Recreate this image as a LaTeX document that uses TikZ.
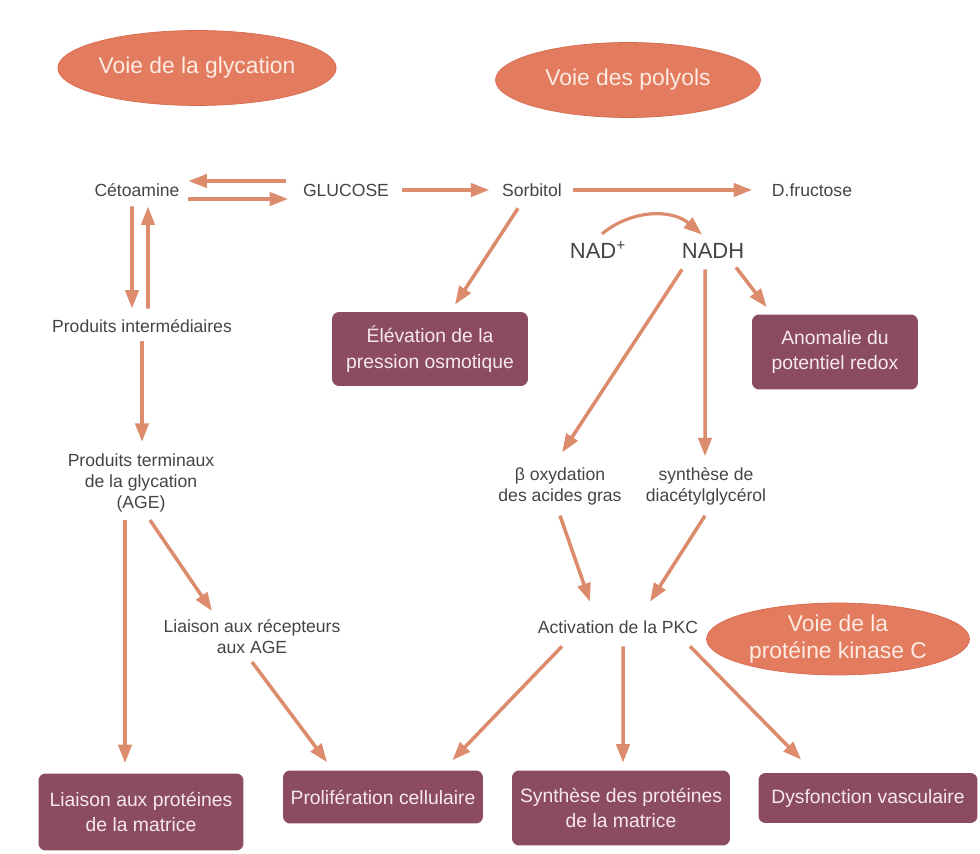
\documentclass[tikz,border=0pt]{standalone}
\usepackage{fontspec}
\setmainfont{Liberation Sans}
\definecolor{CoralPill}{HTML}{E37C5F}
\definecolor{CoralEdge}{HTML}{D8694D}
\definecolor{PaleCoral}{HTML}{FCEBE3}
\definecolor{MauveBox}{HTML}{8C4C60}
\definecolor{PaleMauve}{HTML}{F6E8EC}
\definecolor{SalmonArrow}{HTML}{DC8B6C}
\definecolor{SlateText}{HTML}{444444}
\usepackage{tikz}
\usetikzlibrary{
  arrows.meta,
  shapes.geometric
}

\begin{document}
\begin{tikzpicture}[
  x=0.02cm, y=0.02cm,
  pathway/.style={
    ellipse, fill=CoralPill, draw=CoralEdge,
    inner sep=0pt, align=center,
    font=\fontsize{13}{15}\selectfont,
    text=PaleCoral
  },
  effect/.style={
    rectangle, rounded corners=4pt,
    fill=MauveBox, inner sep=0pt,
    font=\fontsize{11}{14.5}\selectfont,
    align=center, text=PaleMauve
  },
  label/.style={
    font=\fontsize{10}{12}\selectfont,
    text=SlateText, align=center,
    inner sep=2pt
  },
  cofactor/.style={
    font=\fontsize{12.5}{15}\selectfont,
    text=SlateText, inner sep=2pt
  },
  arr/.style={
    draw=SalmonArrow, line width=2pt,
    -{Triangle[length=10.5pt,width=7.5pt]}
  }
]
  \useasboundingbox (0,0) rectangle (980,-854);

  % Pathway titles
  \node[pathway, minimum width=5.5cm,
    minimum height=1.5cm] (glyc)
    at (197,-68) {Voie de la glycation};
  \node[pathway, minimum width=5.3cm,
    minimum height=1.5cm] (poly)
    at (628,-80) {Voie des polyols};
  \node[pathway, minimum width=5.26cm,
    minimum height=1.44cm] (kin)
    at (838,-639) {Voie de la\\prot\'eine kinase C};

  % Metabolites
  \node[label] (ceto) at (137,-190) {C\'etoamine};
  \node[label] (gluc) at (346,-190) {GLUCOSE};
  \node[label] (sorb) at (532,-190) {Sorbitol};
  \node[label] (fruc) at (812,-190) {D.fructose};
  \node[cofactor] (nadp) at (598,-250) {NAD\textsuperscript{+}};
  \node[cofactor] (nadh) at (713,-251) {NADH};
  \node[label] (inter) at (142,-326)
    {Produits interm\'ediaires};
  \node[label] (age) at (141,-483)
    {Produits terminaux\\de la glycation\\(AGE)};
  \node[label] (rage) at (252,-637)
    {Liaison aux r\'ecepteurs\\aux AGE};
  \node[label] (boxy) at (560,-486)
    {β oxydation\\des acides gras};
  \node[label] (dag) at (706,-486)
    {synth\`ese de\\diac\'etylglyc\'erol};
  \node[label] (pkc) at (618,-627)
    {Activation de la PKC};

  % Consequences
  \node[effect, minimum width=3.92cm,
    minimum height=1.48cm] (osmo)
    at (430,-349) {\'El\'evation de la\\pression osmotique};
  \node[effect, minimum width=3.32cm,
    minimum height=1.5cm] (redox)
    at (835,-352) {Anomalie du\\potentiel redox};
  \node[effect, minimum width=4.1cm,
    minimum height=1.54cm] (matr)
    at (141,-812) {Liaison aux prot\'eines\\de la matrice};
  \node[effect, minimum width=4cm,
    minimum height=1.06cm] (prol)
    at (383,-797) {Prolif\'eration cellulaire};
  \node[effect, minimum width=4.36cm,
    minimum height=1.5cm] (synt)
    at (621,-808) {Synth\`ese des prot\'eines\\de la matrice};
  \node[effect, minimum width=4.38cm,
    minimum height=1cm] (dysf)
    at (868,-798) {Dysfonction vasculaire};

  % Polyol pathway
  \draw[arr] ([xshift=-.26cm,yshift=.18cm]gluc.west)
    -- ([xshift=.1cm,yshift=.18cm]ceto.east);
  \draw[arr] ([xshift=.1cm,yshift=-.18cm]ceto.east)
    -- ([xshift=-.22cm,yshift=-.18cm]gluc.west);
  \draw[arr] ([xshift=.18cm]gluc.east)
    -- ([xshift=-.18cm]sorb.west);
  \draw[arr] ([xshift=.14cm]sorb.east)
    -- ([xshift=-.32cm]fruc.west);
  \draw[arr] ([xshift=-.28cm,yshift=-.16cm]sorb.south)
    -- ([xshift=.5cm,yshift=.14cm]osmo.north);
  \draw[arr, line width=1.8pt]
    ([xshift=.08cm,yshift=.08cm]nadp.north)
    to[bend left=40] ([xshift=-.22cm,yshift=.1cm]nadh.north);
  \draw[arr] ([xshift=-.24cm,yshift=-.1cm]nadh.south east)
    -- ([xshift=.3cm,yshift=.14cm]redox.north west);
  \draw[arr] ([xshift=.08cm,yshift=-.14cm]nadh.south west)
    -- ([xshift=.04cm,yshift=.22cm]boxy.north);
  \draw[arr] ([xshift=-.16cm,yshift=-.14cm]nadh.south)
    -- ([xshift=-.02cm,yshift=.14cm]dag.north);

  % Glycation pathway
  \draw[arr] ([xshift=-.1cm,yshift=-.12cm]ceto.south)
    -- ([xshift=-.2cm,yshift=.14cm]inter.north);
  \draw[arr] ([xshift=.12cm,yshift=.14cm]inter.north)
    -- ([xshift=.22cm,yshift=-.12cm]ceto.south);
  \draw[arr] ([yshift=-.1cm]inter.south)
    -- ([yshift=.16cm]inter.south |- age.north);
  \draw[arr] ([xshift=-.32cm,yshift=-.08cm]age.south)
    -- ([xshift=-.32cm,yshift=.2cm]matr.north);
  \draw[arr] ([xshift=.18cm,yshift=-.08cm]age.south)
    -- ([xshift=-.8cm,yshift=.1cm]rage.north);
  \draw[arr] ([yshift=-.08cm]rage.south)
    -- ([xshift=-1.12cm,yshift=.16cm]prol.north);

  % PKC pathway
  \draw[arr] ([yshift=-.14cm]boxy.south)
    -- ([xshift=-.56cm,yshift=.3cm]pkc.north);
  \draw[arr] ([xshift=-.02cm,yshift=-.14cm]dag.south)
    -- ([xshift=.64cm,yshift=.3cm]pkc.north);
  \draw[arr] ([xshift=-1.12cm,yshift=-.18cm]pkc.south)
    -- ([xshift=-.62cm,yshift=.2cm]prol.north east);
  \draw[arr] ([xshift=.1cm,yshift=-.18cm]pkc.south)
    -- ([xshift=.04cm,yshift=.15cm]synt.north);
  \draw[arr] ([xshift=1.44cm,yshift=-.18cm]pkc.south)
    -- ([xshift=.86cm,yshift=.26cm]dysf.north west);
\end{tikzpicture}
\end{document}
